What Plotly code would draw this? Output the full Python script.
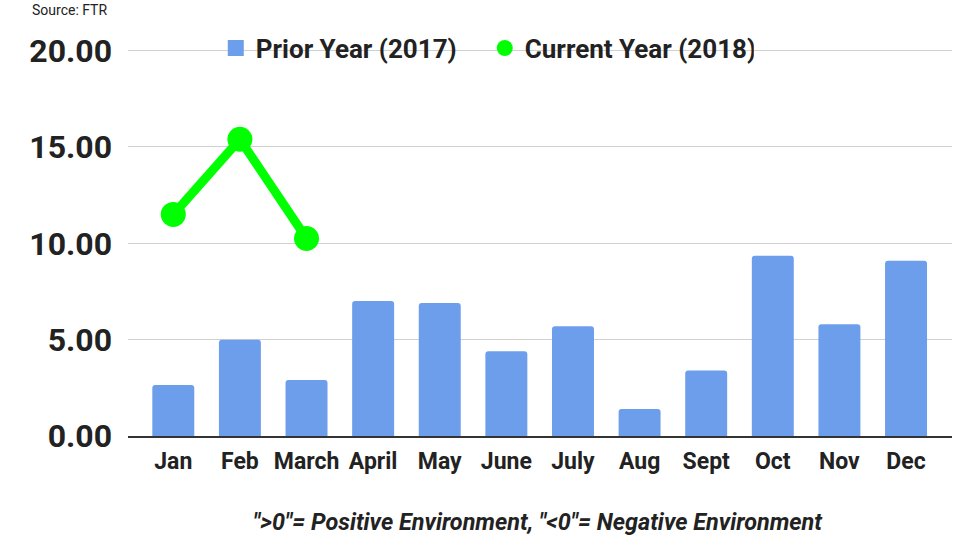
import plotly.graph_objects as go

months = ["Jan", "Feb", "March", "April", "May", "June", "July", "Aug", "Sept", "Oct", "Nov", "Dec"]
prior_2017 = [2.65, 5.0, 2.9, 7.0, 6.9, 4.4, 5.7, 1.4, 3.4, 9.35, 5.8, 9.1]
current_months = ["Jan", "Feb", "March"]
current_2018 = [11.5, 15.4, 10.25]
y_ticks = [0, 5, 10, 15, 20]

FONT = "Roboto"
DARK = "#222222"
BLUE = "#6d9eeb"
GREEN = "#00ff00"

fig = go.Figure()
fig.add_trace(go.Bar(
    x=months, y=prior_2017, name="Prior Year (2017)", showlegend=False,
    marker=dict(color=BLUE, line=dict(width=0)), width=0.63,
))
fig.add_trace(go.Scatter(
    x=current_months, y=current_2018, name="Current Year (2018)", showlegend=False,
    mode="lines+markers",
    line=dict(color=GREEN, width=9),
    marker=dict(color=GREEN, size=25),
))
# legend entries
fig.add_trace(go.Scatter(
    x=[None], y=[None], name="Prior Year (2017)", mode="markers",
    marker=dict(color=BLUE, size=17, symbol="square"),
))
fig.add_trace(go.Scatter(
    x=[None], y=[None], name="Current Year (2018)", mode="markers",
    marker=dict(color=GREEN, size=20, symbol="circle"),
))

fig.update_layout(
    width=980, height=552,
    margin=dict(l=128, r=28, t=41, b=116),
    paper_bgcolor="white", plot_bgcolor="white",
    barcornerradius=3,
    showlegend=True,
    legend=dict(
        orientation="h", x=0.433, xanchor="center", y=0.982, yanchor="middle",
        font=dict(family=FONT, size=26, color=DARK, weight="bold"),
        bgcolor="rgba(0,0,0,0)", itemsizing="trace",
        traceorder="normal", entrywidth=224, entrywidthmode="pixels",
    ),
    xaxis=dict(
        categoryorder="array", categoryarray=months,
        range=[-0.68, 11.69],
        showgrid=False, showline=True, linecolor="#333333", linewidth=1.5,
        ticks="", tickfont=dict(family=FONT, size=23, color=DARK, weight="bold"),
        ticklabelstandoff=4,
    ),
    yaxis=dict(
        range=[0, 20.5], tickvals=y_ticks, tickformat=".2f",
        showgrid=True, gridcolor="#d0d0d0", gridwidth=1,
        zeroline=False, showline=False, ticks="",
        tickfont=dict(family=FONT, size=32, color=DARK, weight="bold"),
        ticklabelstandoff=15,
    ),
    annotations=[
        dict(text="Source: FTR", xref="paper", yref="paper", x=-0.119, y=1.078,
             xanchor="left", yanchor="middle", showarrow=False,
             font=dict(family=FONT, size=14, color=DARK)),
        dict(text='<i>"&gt;0"= Positive Environment, "&lt;0"= Negative Environment</i>',
             xref="paper", yref="paper", x=0.498, y=-0.218,
             xanchor="center", yanchor="middle", showarrow=False,
             font=dict(family=FONT, size=23.4, color=DARK, weight="bold")),
    ],
)

fig.write_html("out.html", config={"displayModeBar": False},
               post_script="document.body.style.margin='0';")
